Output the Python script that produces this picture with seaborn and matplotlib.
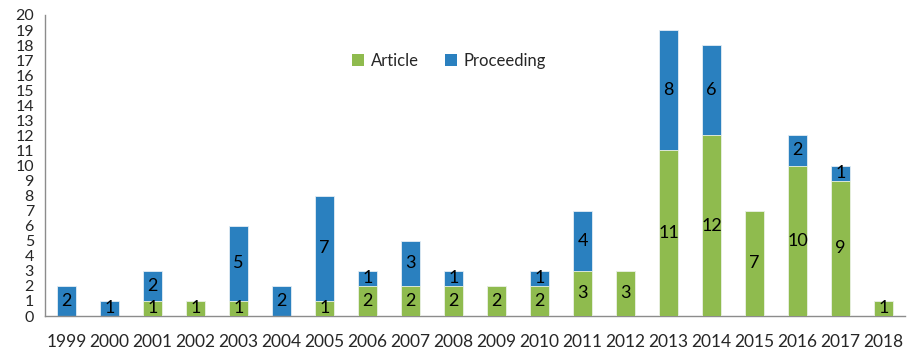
import matplotlib
matplotlib.use("Agg")
import matplotlib.pyplot as plt
from matplotlib.patches import Patch
import numpy as np
import pandas as pd
import seaborn as sns

years = [str(y) for y in range(1999, 2019)]
article = [0, 0, 1, 1, 1, 0, 1, 2, 2, 2, 2, 2, 3, 3, 11, 12, 7, 10, 9, 1]
proceeding = [2, 1, 2, 0, 5, 2, 7, 1, 3, 1, 0, 1, 4, 0, 8, 6, 0, 2, 1, 0]

GREEN = "#8fbb4e"
BLUE = "#2a80bf"
AXIS = "#8c8c8c"

sns.set_theme(style="white")
plt.rcParams["font.family"] = ["Lato", "DejaVu Sans"]

df = pd.DataFrame({"year": years, "article": article, "proceeding": proceeding})
df["total"] = df["article"] + df["proceeding"]

fig = plt.figure(figsize=(9.07, 3.52), dpi=100)
ax = fig.add_axes([45 / 907, 36 / 352, 860 / 907, 301 / 352])

# stacked bars: the full stack in blue, the article part drawn over it in green
sns.barplot(data=df, x="year", y="total", color=BLUE, width=0.42, saturation=1,
            edgecolor="#e4edf4", linewidth=0.6, ax=ax, zorder=2)
sns.barplot(data=df, x="year", y="article", color=GREEN, width=0.42, saturation=1,
            edgecolor="#eef3e6", linewidth=0.6, ax=ax, zorder=3)

for i, (a, p) in enumerate(zip(article, proceeding)):
    if a > 0:
        ax.text(i, a / 2, str(a), ha="center", va="center", fontsize=13,
                color="black", zorder=4)
    if p > 0:
        ax.text(i, a + p / 2, str(p), ha="center", va="center", fontsize=13,
                color="black", zorder=4)

ax.set_xlim(-0.5, len(years) - 0.5)
ax.set_ylim(0, 20)
ax.set_yticks(range(0, 21))
ax.set_xlabel("")
ax.set_ylabel("")

# category labels on minor ticks, tick marks at the category boundaries
ax.set_xticks(np.arange(len(years)), labels=years, minor=True)
ax.set_xticks(np.arange(-0.5, len(years), 1.0), labels=[""] * (len(years) + 1))
ax.tick_params(axis="x", which="minor", length=0, pad=13, labelsize=12.5)
ax.tick_params(axis="x", which="major", length=5, width=1, color=AXIS, direction="out")
ax.tick_params(axis="y", length=5, width=1, color=AXIS, direction="out",
               labelsize=11.5, pad=3)

for s in ["top", "right"]:
    ax.spines[s].set_visible(False)
for s in ["left", "bottom"]:
    ax.spines[s].set_color(AXIS)
    ax.spines[s].set_linewidth(1)

handles = [Patch(facecolor=GREEN, edgecolor="none", label="Article"),
           Patch(facecolor=BLUE, edgecolor="none", label="Proceeding")]
ax.legend(handles=handles, loc="center", bbox_to_anchor=(0.47, 0.847), ncol=2,
          frameon=False, fontsize=12, handlelength=0.7, handleheight=0.7,
          handletextpad=0.4, columnspacing=1.6)

fig.savefig("out.png", dpi=100)
